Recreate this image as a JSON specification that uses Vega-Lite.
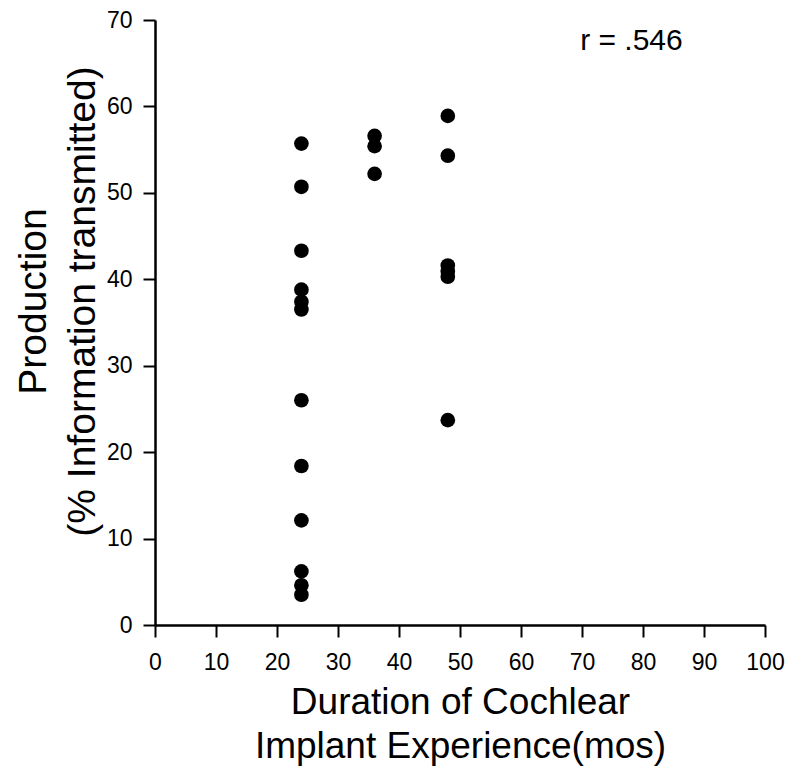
{
  "$schema": "https://vega.github.io/schema/vega-lite/v6.json",
  "width": 610,
  "height": 605,
  "autosize": {"type": "none"},
  "padding": {"left": 155, "top": 20, "right": 25, "bottom": 152},
  "background": "white",
  "config": {
    "view": {"stroke": null},
    "font": "Liberation Sans",
    "axis": {
      "grid": false,
      "domainColor": "black",
      "domainWidth": 2.5,
      "tickColor": "black",
      "tickWidth": 2,
      "tickSize": 12,
      "labelColor": "black",
      "labelFont": "Liberation Sans",
      "titleFont": "Liberation Sans",
      "titleFontWeight": "normal",
      "titleColor": "black"
    }
  },
  "datasets": {
    "points": [
      {"months": 24, "production": 55.7},
      {"months": 24, "production": 50.7},
      {"months": 24, "production": 43.3},
      {"months": 24, "production": 38.8},
      {"months": 24, "production": 37.4},
      {"months": 24, "production": 36.5},
      {"months": 24, "production": 26.0},
      {"months": 24, "production": 18.4},
      {"months": 24, "production": 12.1},
      {"months": 24, "production": 6.2},
      {"months": 24, "production": 4.6},
      {"months": 24, "production": 3.5},
      {"months": 36, "production": 56.6},
      {"months": 36, "production": 55.4},
      {"months": 36, "production": 52.2},
      {"months": 48, "production": 58.9},
      {"months": 48, "production": 54.3},
      {"months": 48, "production": 41.6},
      {"months": 48, "production": 40.9},
      {"months": 48, "production": 40.3},
      {"months": 48, "production": 23.7}
    ],
    "note": [
      {"months": 69.7, "production": 67.6, "label": "r = .546"}
    ]
  },
  "layer": [
    {
      "data": {"name": "points"},
      "mark": {"type": "circle", "size": 215, "color": "black", "opacity": 1},
      "encoding": {
        "x": {
          "field": "months",
          "type": "quantitative",
          "scale": {"domain": [0, 100], "nice": false, "zero": false},
          "axis": {
            "values": [0, 10, 20, 30, 40, 50, 60, 70, 80, 90, 100],
            "labelFontSize": 23,
            "labelPadding": 14,
            "title": ["Duration of Cochlear", "Implant Experience(mos)"],
            "titleFontSize": 37,
            "titleLineHeight": 44,
            "titlePadding": 10,
            "labelFlush": false
          }
        },
        "y": {
          "field": "production",
          "type": "quantitative",
          "scale": {"domain": [0, 70], "nice": false},
          "axis": {
            "values": [0, 10, 20, 30, 40, 50, 60, 70],
            "labelFontSize": 23,
            "labelPadding": 11,
            "title": ["Production", "(% Information transmitted)"],
            "titleFontSize": 39,
            "titleLineHeight": 49,
            "titlePadding": 4,
            "titleY": 281,
            "labelFlush": false
          }
        }
      }
    },
    {
      "data": {"name": "note"},
      "mark": {"type": "text", "align": "left", "baseline": "middle", "fontSize": 30, "color": "black", "font": "Liberation Sans"},
      "encoding": {
        "x": {"field": "months", "type": "quantitative"},
        "y": {"field": "production", "type": "quantitative"},
        "text": {"field": "label"}
      }
    }
  ]
}
